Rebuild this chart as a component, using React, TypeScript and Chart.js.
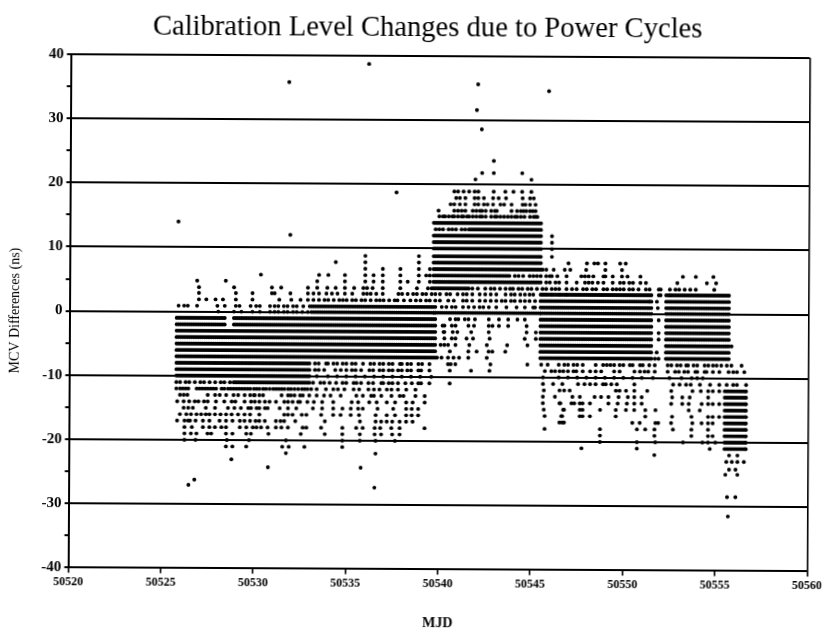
import React, { useEffect, useRef } from "react";
import { Chart, registerables } from "chart.js";

Chart.register(...registerables);

const MJD_BASE = 50500;
const titleText = "Calibration Level Changes due to Power Cycles";
const xTitle = "MJD";
const yTitle = "MCV Differences (ns)";

// Day numbers (MJD - 50500), per quantised ns level.
const blockA1 = [25.8,25.9,26,26.1,26.2,26.3,26.4,26.5,26.6,26.7,26.8,26.9,27,27.1,27.2,27.3,27.4,27.5,27.6,27.7,27.8,27.9,28,28.1,28.2,28.3,28.4];
const blockA2 = [28.9,29,29.1,29.2,29.3,29.4,29.5,29.6,29.7,29.8,29.9,30,30.1,30.2,30.3,30.4,30.5,30.6,30.7,30.8,30.9,31,31.1,31.2,31.3,31.4,31.5,31.6,31.7,31.8,31.9,32,32.1,32.2,32.3,32.4,32.5,32.6,32.7,32.8,32.9,33];
const blockA3 = [28.5,28.6,28.7,28.8];
const blockB = [33.1,33.2,33.3,33.4,33.5,33.6,33.7,33.8,33.9,34,34.1,34.2,34.3,34.4,34.5,34.6,34.7,34.8,34.9,35,35.1,35.2,35.3,35.4,35.5,35.6,35.7,35.8,35.9,36,36.1,36.2,36.3,36.4,36.5,36.6,36.7,36.8,36.9,37,37.1,37.2,37.3,37.4,37.5,37.6,37.7,37.8,37.9,38,38.1,38.2,38.3,38.4,38.5,38.6,38.7,38.8,38.9,39,39.1,39.2,39.3,39.4,39.5,39.6,39.7,39.8];
const humpL = [39.7,39.8,39.9,40,40.1,40.2,40.3,40.4,40.5,40.6,40.7,40.8,40.9,41,41.1,41.2,41.3,41.4,41.5,41.6];
const humpM = [41.7,41.8,41.9,42,42.1,42.2,42.3,42.4,42.5,42.6,42.7,42.8,42.9,43,43.1,43.2,43.3,43.4,43.5,43.6,43.7,43.8];
const humpE = [43.9,44,44.1,44.2,44.3,44.4,44.5,44.6,44.7,44.8,44.9,45,45.1,45.2,45.3,45.4,45.5];
const blockC = [45.5,45.6,45.7,45.8,45.9,46,46.1,46.2,46.3,46.4,46.5,46.6,46.7,46.8,46.9,47,47.1,47.2,47.3,47.4,47.5,47.6,47.7,47.8,47.9,48,48.1,48.2,48.3,48.4,48.5,48.6,48.7,48.8,48.9,49,49.1,49.2,49.3,49.4,49.5,49.6,49.7,49.8,49.9,50,50.1,50.2,50.3,50.4,50.5,50.6,50.7,50.8,50.9,51,51.1,51.2,51.3,51.4,51.5];
const blockD = [52.3,52.4,52.5,52.6,52.7,52.8,52.9,53,53.1,53.2,53.3,53.4,53.5,53.6,53.7,53.8,53.9,54,54.1,54.2,54.3,54.4,54.5,54.6,54.7,54.8,54.9,55,55.1,55.2,55.3,55.4,55.5,55.6,55.7];
const tail = [55.5,55.6,55.7,55.8,55.9,56,56.1,56.2,56.3,56.4,56.5,56.6,56.65];

const top387 = [36.15];
const top358 = [31.83];
const top356 = [42.06];
const top346 = [45.9];
const top316 = [42];
const top286 = [42.27];
const top237 = [42.93];
const top218 = [42.3,42.93,44.47];
const top208 = [41.94,44.97];
const top187 = [37.67];
const top189 = [40.8,41,41.3,41.6,41.9,42.1,42.93,43.56,44,44.47,44.97];
const top179 = [40.9,41.1,41.4,41.9,42.1,42.4,42.9,43.2,43.6,44.5,44.9,45.1];
const top169 = [40.6,40.8,41.1,41.4,41.9,42.1,42.4,42.6,42.9,43.3,43.5,43.9,44.5,44.65,44.9,45.2];
const top159 = [39.95,40.8,41,41.2,41.4,41.8,42,42.2,42.3,42.5,42.8,43,43.1,43.9,44.2,44.4,44.55,44.7,44.9,45.05,45.2];
const top15 = [40,40.2,40.3,40.5,40.7,40.8,41,41.2,41.3,41.5,41.6,41.8,42,42.2,42.3,42.5,42.8,43,43.1,43.3,43.5,43.7,43.9,44.1,44.2,44.4,44.6,44.9,45.1,45.2,45.3];
const top14 = [25.87];
const top13 = [39.8,40,40.2,40.5,40.7,40.9,41.2,41.4,41.6];
const top12 = [31.93,46.1];
const top11 = [46.1];
const top10 = [46.1];
const top88 = [36,38.9,46.1];
const top78 = [34.4,36,38.9,47,48,48.4,48.6,49,49.8,50.1];
const top68 = [36,36.95,37.9,38.9,39.5,45.6,45.8,46.2,46.8,47.1,47.96,49,49.9];
const top58 = [30.35,33.5,34,34.9,36,36.45,36.95,37.9,38.9,39.3,39.5,44.1,44.3,44.55,44.9,45.1,45.3,45.5,45.8,46,46.1,46.4,46.9,47.7,47.9,48.1,48.35,48.9,49,49.4,49.9,50.2,50.9,53.2,53.9,54.85];
const top48 = [26.9,28.45,33.4,34.9,36,36.45,36.95,37.9,38.3,38.9,39.5,45.8,46,46.3,46.5,46.9,47.45,47.9,48.1,48.3,48.6,48.9,49.4,49.8,50,50.3,50.5,50.9,51.2,52.9,54.5,55];
const top38 = [27,28.9,30.95,31.45,32.9,33.4,33.95,34.4,34.9,35.4,35.9,36.1,36.4,36.95,37.9,38.8,39.4,39.6,41.8,42.1,42.5,42.8,43,43.3,43.6,43.85,44,44.3,44.5,44.8,45,45.3,45.6,45.8,46.1,46.3,46.5,46.9,47.2,47.45,47.8,48,48.3,48.5,48.9,49.1,49.4,49.6,49.8,50,50.3,50.5,50.8,51.2,51.4,51.9,52,52.5,52.8,53,53.3,53.6,53.9,54.9];
const top29 = [27,29,29.9,30.95,31.1,31.95,32.9,33.2,33.5,33.9,34.2,34.5,34.9,35.3,35.9,36.1,36.3,36.6,36.95,37.8,38,38.3,38.6,38.8,39.1,39.3,39.6,39.8,40.05,40.4,40.6,41,41.3,41.5,41.8,42.2,42.5,42.8,43.1,43.6,43.9,44.1,44.4,44.65,44.9,45.1,45.6,45.8,46.1,46.5,46.9,51.9,52,52.5];
const top19 = [27,27.4,27.9,28.3,29,29.9,31.35,32,32.5,32.9,33.2,33.5,33.8,34,34.3,34.6,34.8,35,35.3,35.5,35.8,36,36.3,36.6,36.8,37,37.3,37.6,37.75,38.1,38.45,38.75,39,39.3,39.5,39.8,40.05,40.5,40.8,41.3,41.5,41.8,42.2,42.5,42.8,43.1,43.4,43.6,43.9,44.1,44.4,44.65,44.9,45.2,51.8,51.4];
const top09 = [25.9,26.2,26.4,26.9,28,28.4,29,29.2,29.8,30.1,30.3,30.85,31.1,31.3,31.6,31.8,32.1,32.3,32.65,33,40.15,40.4,40.7,40.9,41.3,41.6,41.9,42.2,42.4,42.7,43.1,43.65,44.2,44.65,45.1,45.2,51.85];
const zero = [28.05,28.9,29.3,29.9,30.3,30.85,31.1,31.3,31.6,31.8,32.1,32.3,32.6,32.9];
const m1 = [40.6,40.9,41.05,41.4,41.6,41.95,42.7,43.25,43.75,44.25,44.65,51.9];
const m2 = [40.2,40.3,40.7,40.9,41.6,41.9,42.7,42.9,43.25,43.75,44.75];
const m3 = [40.25,40.3,40.75,41,41.75,42.7,44.75,45.25,51.9];
const m4 = [40.3,40.7,40.9,41.5,41.85,42.75,44.65,45.25,51.9];
const m5 = [40.1,40.3,40.5,40.9,41.65,42.6,43.7,44.8,55.85];
const m6 = [40.6,41.6,42.05,42.7,42.9,43.6,51.8];
const m7 = [39.9,40.15,40.5,40.8,41.1,41.6,42.6,51.7,51.9];
const m8 = [33.3,33.5,33.9,34,34.3,34.5,34.8,35,35.3,35.5,35.9,36.3,36.5,36.8,37,37.3,37.5,37.9,38,38.3,38.5,38.9,39.1,39.5,40.5,40.65,40.9,42.8,44.8,45.55,45.9,46.5,46.8,47,47.3,47.5,47.8,48.5,48.9,49.1,49.3,49.5,49.8,50,50.35,50.5,50.9,51.05,51.4,51.7,52.4,52.6,52.9,53.1,53.4,53.5,53.8,54,54.4,54.6,54.85,55.05,55.3,55.6,55.85,56.4];
const m9 = [33.3,33.5,33.8,34.4,34.7,35,35.3,35.5,35.8,36.25,36.45,36.8,37,37.3,37.5,37.8,38,38.3,38.5,38.9,39.05,39.5,40.6,41.75,42.75,45.75,46.1,46.3,46.55,46.75,47,47.3,47.45,47.8,48.2,48.5,48.8,49.5,49.8,50.6,50.9,51.15,51.35,51.7,52.4,52.8,53,53.3,53.5,53.9,54,54.4,54.5,54.85,55.2,55.7,55.95,56.15,56.55];
const m10 = [33.4,34,34.5,35,35.5,36,36.5,37,37.5,38,38.5,39,39.6,45.65,46.5,47,47.5,48,48.5,49,49.5,50,50.5,51,51.6,52.5,53.15,53.7,54,54.3];
const m11 = [25.8,26,26.3,26.5,26.8,27.1,27.3,27.6,27.9,28.2,28.4,28.7,33.2,33.6,33.8,34.1,34.45,34.8,35,35.4,35.55,35.8,36.2,36.45,36.9,37,37.3,37.5,37.8,38.2,38.55,38.9,39.05,39.5,40.6,45.65,46.2,46.7,47.55,47.9,48.2,48.5,48.9,49.05,49.35,49.65,50.6,52.7,53.05,53.4,53.65,54.15,54.7,55.2,55.6,55.95,56.15,56.65];
const m12 = [25.8,26,26.15,26.3,26.45,26.9,27.05,27.2,27.35,27.5,27.65,27.8,27.95,28.25,28.4,28.6,28.75,28.9,29.05,29.2,29.35,29.5,29.65,29.8,30,30.15,30.3,30.5,30.65,30.85,31.05,31.2,31.35,31.5,31.65,31.85,32,32.2,32.4,32.6,32.75,32.9,33.1,33.4,33.9,34.3,34.55,34.9,35.4,35.7,36.2,36.5,36.8,37.2,37.45,37.8,38.25,38.75,45.7,46.55,46.8,47.1,49.6,49.8,50.15,50.6,51.3,52.6,53.75,54.2,54.6,54.85,55.2];
const m13 = [26,26.2,26.4,27.5,27.9,28.15,28.5,28.9,29.15,29.5,29.8,30,30.05,30.3,30.5,31.5,31.85,32,32.2,32.5,32.65,33,33.4,33.8,34.15,34.7,35.55,35.9,36.35,36.5,36.9,37.45,37.9,38.1,38.75,39.25,45.65,46.3,47.25,47.65,48.45,48.8,49.2,49.75,50.25,50.6,51,52.65,53.2,53.6,54.6];
const m14 = [25.85,26.2,26.5,26.8,27,27.3,27.5,27.95,28.4,28.8,29,29.5,29.85,30.05,30.3,30.6,30.85,31.2,31.65,31.85,32.1,32.4,32.5,32.9,33.25,33.7,34.3,35.3,35.65,36.25,36.65,37.2,37.65,38.25,38.6,39.25,45.65,46.55,46.6,47.2,47.35,47.65,47.8,48.2,49.2,49.7,50.2,50.6,51,52.6,53.2,53.55,54.25,54.6,54.85,55.2];
const m15 = [26.2,26.45,26.7,27.4,27.9,28.6,28.95,29.3,29.7,29.85,30.15,30.3,30.6,30.75,31.4,31.85,32.3,33.2,33.7,34.3,34.8,35.25,35.65,35.9,36.7,37.55,38.25,38.55,38.9,45.7,46.75,46.8,47.65,47.8,48.75,49.6,50.15,50.6,51.2,51.75,53.55,54.15];
const m16 = [26,26.35,26.6,26.9,27.15,27.4,27.6,27.9,28.2,28.5,28.8,29.15,29.5,29.8,30.3,31.65,31.85,32.1,32.6,32.85,33.65,34.3,34.7,35.25,35.7,36.6,37.2,37.65,38.25,38.55,38.9,45.75,46.65,46.7,47.65,47.8,48.2,49.6,51.2,52.65,53.7,54.6,54.85,55.2];
const m17 = [25.85,26.25,26.45,26.55,26.85,27.25,27.6,28.15,28.5,28.85,29.25,29.5,29.8,30.1,30.3,30.6,31.2,31.45,31.65,32.25,33.85,35.75,36.6,36.9,37.2,37.5,37.9,38.25,38.6,46.55,46.7,46.8,50.5,50.9,51.75,51.9,52.6,53.75,54.25,54.6,54.85];
const m18 = [26.25,26.65,27.25,27.6,27.9,28.25,28.5,29.25,29.6,29.95,30.15,30.4,30.75,31.2,31.5,31.85,32.65,32.85,33.65,34.8,35.55,35.9,36.55,36.85,37.45,37.9,39.25,45.75,48.75,50.75,51.2,51.7,52.7,53.7,54.6];
const m19 = [26.25,26.6,26.9,27.5,27.7,28.5,28.85,29.6,29.85,30.8,32.55,33.85,34.8,35.75,36.55,36.9,37.5,37.9,48.75,51.7,53.7,54.6,54.85];
const m20 = [26.25,26.85,28.55,29.75,31.75,34.8,35.75,36.6,37.65,48.75,50.75,51.75,53.25,54.3,54.6,55];
const m21 = [28.5,28.85,29.6,31.55,31.9,32.75,34.8,47.75,50.75,54.7];
const m22 = [31.75,36.6,51.7];
const m23 = [28.8];
const m24 = [30.78,35.8,55.75,56.1];
const m25 = [55.55,56.2];
const m26 = [26.8];
const m27 = [26.48];
const m273 = [36.55];
const m285 = [55.65,56.1];
const m315 = [55.7];
const m22b = [55.75,56.2];
const m23b = [55.6,55.9,56.2,56.55];

const levels: [number, number[]][] = [
  [38.7, top387],[35.8, top358],[35.6, top356],[34.6, top346],[31.6, top316],[28.6, top286],[23.7, top237],
  [21.8, top218],[20.8, top208],[18.7, top187],[18.9, top189],[17.9, top179],[16.9, top169],[15.9, top159],
  [15, top15],[14, [...top14, ...humpL, ...humpM, ...humpE]],[13, [...top13, ...humpM, ...humpE]],
  [12, [...top12, ...humpL, ...humpM, ...humpE]],
  [11, [...humpL, ...humpM, ...humpE, ...top11]],[10, [...humpL, ...humpM, ...humpE, ...top10]],
  [8.8, [...humpL, ...humpM, ...humpE, ...top88]],[7.8, [...humpL, ...humpM, ...humpE, ...top78]],
  [6.8, [...humpL, ...humpM, ...humpE, ...top68]],[5.8, [...humpL, ...humpM, ...top58]],
  [4.8, [...humpL, ...humpM, ...humpE, ...top48]],[3.8, [...humpL, ...top38]],
  [2.9, [...top29, ...blockC, ...blockD]],[1.9, [...top19, ...blockC, ...blockD]],[0.9, [...top09, ...blockB, ...blockC, ...blockD]],
  [0, [...zero, ...blockB, ...humpL, ...humpM, ...humpE, ...blockC, ...blockD]],
  [-1, [...m1, ...blockA1, ...blockA2, ...blockB, ...blockC, ...blockD]],
  [-2, [...blockA1, ...blockA2, ...blockB, ...m2, ...blockC, ...blockD]],
  [-3, [...blockA1, ...blockA3, ...blockA2, ...blockB, ...m3, ...blockC, ...blockD]],
  [-4, [...blockA1, ...blockA3, ...blockA2, ...blockB, ...m4, ...blockC, ...blockD]],
  [-5, [...blockA1, ...blockA3, ...blockA2, ...blockB, ...m5, ...blockC, ...blockD]],
  [-6, [...blockA1, ...blockA3, ...blockA2, ...blockB, ...m6, ...blockC, ...blockD]],
  [-7, [...blockA1, ...blockA3, ...blockA2, ...blockB, ...m7, ...blockC, ...blockD]],
  [-8, [...blockA1, ...blockA3, ...blockA2, ...m8]],[-9, [...blockA1, ...blockA3, ...blockA2, ...m9]],
  [-10, [...blockA1, ...blockA3, ...blockA2, ...m10]],
  [-11, [...m11, ...blockA2]],[-12, [...m12, ...tail]],[-13, [...m13, ...tail]],[-14, [...m14, ...tail]],
  [-15, [...m15, ...tail]],[-16, [...m16, ...tail]],[-17, [...m17, ...tail]],[-18, [...m18, ...tail]],
  [-19, [...m19, ...tail]],[-20, [...m20, ...tail]],[-21, [...m21, ...tail]],
  [-22, [...m22, ...m22b]],[-23, [...m23, ...m23b]],[-24.2, m24],[-25, m25],
  [-26.2, m26],[-27, m27],[-27.3, m273],[-28.5, m285],[-31.5, m315],
];

const FONT = "'Liberation Serif', serif";

const titleShift = {
  id: "titleShift",
  afterLayout(chart: any) {
    const t = chart.titleBlock;
    if (t) { t.left += 22; t.right += 22; }
  },
};

export default function App() {
  const ref = useRef<HTMLCanvasElement | null>(null);
  useEffect(() => {
    const points = levels.flatMap(([y, days]) => days.map((d) => ({ x: MJD_BASE + d, y })));
    const chart = new Chart(ref.current as HTMLCanvasElement, {
      type: "scatter",
      data: {
        datasets: [{
          data: points,
          backgroundColor: "#000",
          borderWidth: 0,
          pointRadius: 1.95,
          pointStyle: "circle",
        }],
      },
      plugins: [titleShift],
      options: {
        animation: false,
        responsive: false,
        devicePixelRatio: 1,
        layout: { padding: { left: 0, right: 14.7, top: 0, bottom: 0 } },
        plugins: {
          legend: { display: false },
          tooltip: { enabled: false },
          title: {
            display: true,
            text: titleText,
            color: "#000",
            font: { family: FONT, size: 28.6, weight: "normal" },
            padding: { top: 11, bottom: 10.5 },
          },
        },
        scales: {
          x: {
            type: "linear",
            min: 50520,
            max: 50560,
            afterFit(s: any) { s.height = 64.6; s.paddingLeft = 0; s.paddingRight = 0; },
            border: { display: true, color: "#000", width: 2 },
            grid: {
              drawOnChartArea: true,
              drawTicks: true,
              tickLength: 5,
              tickColor: "#000",
              lineWidth: 1.6,
              color: (c: any) => (c.tick && c.tick.value === 50560 ? "#000" : "rgba(0,0,0,0)"),
            },
            ticks: {
              stepSize: 5,
              autoSkip: false,
              maxRotation: 0,
              color: "#000",
              padding: 2,
              font: { family: FONT, size: 12, weight: "bold" },
              callback: (v: any) => String(v),
            },
            title: {
              display: true,
              text: xTitle,
              color: "#000",
              font: { family: FONT, size: 14, weight: "bold" },
              padding: { top: 0, bottom: 2 },
            },
          },
          y: {
            min: -40,
            max: 40,
            afterFit(s: any) { s.width = 69.6; s.paddingTop = 0; s.paddingBottom = 0; },
            border: { display: true, color: "#000", width: 2 },
            grid: {
              drawTicks: true,
              tickLength: 4,
              tickColor: "#000",
              lineWidth: 2,
              color: (c: any) => (c.tick && c.tick.value % 10 === 0 ? "#000" : "rgba(0,0,0,0)"),
            },
            ticks: {
              stepSize: 5,
              autoSkip: false,
              color: "#000",
              padding: 3,
              font: { family: FONT, size: 15, weight: "bold" },
              callback: (v: any) => (Number(v) % 10 === 0 ? String(v) : ""),
            },
            title: {
              display: true,
              text: yTitle,
              color: "#000",
              font: { family: FONT, size: 14, weight: "normal" },
              padding: { top: 7, bottom: 0 },
            },
          },
        },
      },
    } as any);
    return () => chart.destroy();
  }, []);
  return (
    <canvas
      ref={ref}
      width={823}
      height={634}
      style={{ position: "fixed", left: 0, top: 0, width: 823, height: 634, transform: "rotate(0.3deg)" }}
    />
  );
}
